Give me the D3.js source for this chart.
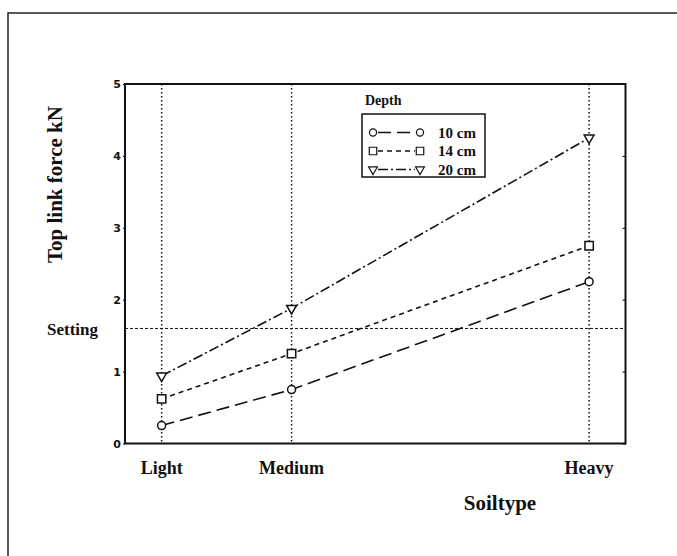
<!DOCTYPE html>
<html lang="en">
<head>
    <meta charset="UTF-8">
    <title>Top link force vs soil type</title>
    <script src="https://cdnjs.cloudflare.com/ajax/libs/d3/7.8.5/d3.min.js"></script>
    <style>
        body {
            margin: 0;
            background-color: white;
            font-family: "Liberation Serif", "DejaVu Serif", serif;
        }
        svg text { fill: #111; }
    </style>
</head>
<body>
    <div id="chart"></div>

    <script>
        // soil types and where they sit on the x axis
        const soilTypes = ["Light", "Medium", "Heavy"];
        const soilPos = [1, 2, 4.29];

        // top link force (kN) per depth
        const depths = ["10 cm", "14 cm", "20 cm"];
        const force10 = [0.25, 0.75, 2.25];
        const force14 = [0.62, 1.25, 2.75];
        const force20 = [0.94, 1.88, 4.25];
        const settingValue = 1.6;

        const yTicks = [0, 1, 2, 3, 4, 5];

        const width = 677;
        const height = 556;
        const plot = { left: 125, right: 625.5, top: 84, bottom: 443.5 };

        const svg = d3.select("#chart")
            .append("svg")
            .attr("width", width)
            .attr("height", height);

        // outer page frame
        svg.append("rect")
            .attr("x", 8).attr("y", 13)
            .attr("width", 700).attr("height", 600)
            .style("fill", "none")
            .style("stroke", "#222")
            .style("stroke-width", 1.5);

        const x = d3.scaleLinear().domain([0.718, 4.57]).range([plot.left, plot.right]);
        const y = d3.scaleLinear().domain([0, 5]).range([plot.bottom, plot.top]);

        // vertical dotted lines at the soil types
        svg.selectAll(".vgrid")
            .data(soilPos)
            .enter()
            .append("line")
            .attr("x1", d => x(d)).attr("x2", d => x(d))
            .attr("y1", y(5)).attr("y2", y(0))
            .style("stroke", "#111")
            .style("stroke-width", 1.5)
            .style("stroke-dasharray", "1.5,2.5");

        // setting line
        svg.append("line")
            .attr("x1", plot.left).attr("x2", plot.right)
            .attr("y1", y(settingValue)).attr("y2", y(settingValue))
            .style("stroke", "#111")
            .style("stroke-width", 1)
            .style("stroke-dasharray", "3,2");

        svg.append("text")
            .attr("x", 47)
            .attr("y", y(settingValue) + 7)
            .style("font-size", "17px")
            .style("font-weight", "bold")
            .text("Setting");

        // axes
        svg.append("g")
            .attr("transform", `translate(${plot.left},0)`)
            .call(d3.axisLeft(y).tickValues(yTicks).tickFormat(d3.format("d")).tickSize(2).tickPadding(2))
            .call(g => g.select(".domain").remove())
            .call(g => g.selectAll("text")
                .style("font-size", "11px")
                .style("font-weight", "bold")
                .style("font-family", "'DejaVu Sans', sans-serif"));

        svg.append("g")
            .attr("transform", `translate(${plot.right},0)`)
            .call(d3.axisLeft(y).tickValues(yTicks).tickFormat("").tickSize(3))
            .call(g => g.select(".domain").remove());

        svg.append("rect")
            .attr("x", plot.left).attr("y", plot.top)
            .attr("width", plot.right - plot.left)
            .attr("height", plot.bottom - plot.top)
            .style("fill", "none")
            .style("stroke", "#111")
            .style("stroke-width", 2);

        svg.selectAll(".xlabel")
            .data(soilTypes)
            .enter()
            .append("text")
            .attr("x", (d, i) => x(soilPos[i]))
            .attr("y", 474)
            .attr("text-anchor", "middle")
            .style("font-size", "18px")
            .style("font-weight", "bold")
            .text(d => d);

        svg.append("text")
            .attr("x", 500)
            .attr("y", 510)
            .attr("text-anchor", "middle")
            .style("font-size", "21px")
            .style("font-weight", "bold")
            .text("Soiltype");

        svg.append("text")
            .attr("transform", "translate(62,263) rotate(-90)")
            .style("font-size", "21px")
            .style("font-weight", "bold")
            .text("Top link force kN");

        // series
        const series = [
            { name: depths[0], values: force10, dash: "13,6", shape: d3.symbolCircle, size: 50 },
            { name: depths[1], values: force14, dash: "5,4", shape: d3.symbolSquare, size: 70 },
            { name: depths[2], values: force20, dash: "10,3,2,3", shape: d3.symbolTriangle, size: 42 }
        ];

        const line = d3.line()
            .x((d, i) => x(soilPos[i]))
            .y(d => y(d));

        series.forEach(s => {
            svg.append("path")
                .attr("d", line(s.values))
                .style("fill", "none")
                .style("stroke", "#111")
                .style("stroke-width", 1.6)
                .style("stroke-dasharray", s.dash);

            svg.selectAll(null)
                .data(s.values)
                .enter()
                .append("path")
                .attr("d", d3.symbol().type(s.shape).size(s.size))
                .attr("transform", (d, i) => {
                    const r = s.shape === d3.symbolTriangle ? " rotate(180)" : "";
                    return `translate(${x(soilPos[i])},${y(d)})${r}`;
                })
                .style("fill", "white")
                .style("stroke", "#111")
                .style("stroke-width", 1.5);
        });

        // legend
        svg.append("text")
            .attr("x", 365).attr("y", 105)
            .style("font-size", "14px")
            .style("font-weight", "bold")
            .text("Depth");

        svg.append("rect")
            .attr("x", 362).attr("y", 114)
            .attr("width", 123).attr("height", 63)
            .style("fill", "white")
            .style("stroke", "#111")
            .style("stroke-width", 1.5);

        const legend = svg.append("g");
        series.forEach((s, i) => {
            const ly = 132.5 + i * 18.5;
            legend.append("line")
                .attr("x1", 378).attr("x2", 415)
                .attr("y1", ly).attr("y2", ly)
                .style("stroke", "#111")
                .style("stroke-width", 1.6)
                .style("stroke-dasharray", s.dash);
            [373, 420].forEach(lx => {
                legend.append("path")
                    .attr("d", d3.symbol().type(s.shape).size(s.size * 0.8))
                    .attr("transform", `translate(${lx},${ly})${s.shape === d3.symbolTriangle ? " rotate(180)" : ""}`)
                    .style("fill", "white")
                    .style("stroke", "#111")
                    .style("stroke-width", 1.2);
            });
            legend.append("text")
                .attr("x", 438).attr("y", ly + 5)
                .style("font-size", "15px")
                .style("font-weight", "bold")
                .text(s.name);
        });
    </script>
</body>
</html>
